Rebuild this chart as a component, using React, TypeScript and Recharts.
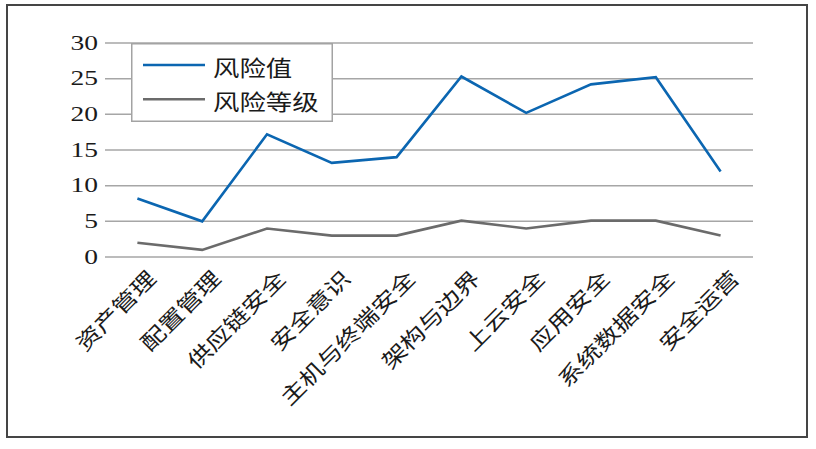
import React from 'react';
import { LineChart, Line, XAxis, YAxis, CartesianGrid, Legend } from 'recharts';

const categories = ['资产管理', '配置管理', '供应链安全', '安全意识', '主机与终端安全', '架构与边界', '上云安全', '应用安全', '系统数据安全', '安全运营'];
const riskValues = [8.2, 5.0, 17.2, 13.2, 14.0, 25.3, 20.2, 24.2, 25.2, 12.0];
const riskLevels = [2, 1, 4, 3, 3, 5.1, 4, 5.1, 5.1, 3];
const yTicks = [0, 5, 10, 15, 20, 25, 30];
const seriesNames = ['风险值', '风险等级'];
const seriesColors = ['#0b66b1', '#6b6b6b'];

const data = categories.map((name, i) => ({ name, value: riskValues[i], level: riskLevels[i] }));

const CJK = "'Noto Sans CJK SC', 'Noto Sans CJK JP', sans-serif";
const SERIF = "'Liberation Serif', 'DejaVu Serif', serif";

const YTick = (props: any) => {
  const { x, y, payload } = props;
  return (
    <g transform={`translate(${x},${y - 1}) scale(1.25,1)`}>
      <text textAnchor="end" dominantBaseline="central" fontSize={22} fontFamily={SERIF} fill="#1a1a1a">
        {payload.value}
      </text>
    </g>
  );
};

const XTick = (props: any) => {
  const { x, y, payload } = props;
  return (
    <g transform={`translate(${x + 20},${y + 23}) rotate(-45) scale(1.22,1)`}>
      <text textAnchor="end" fontSize={21} fontFamily={CJK} fill="#1a1a1a">
        {payload.value}
      </text>
    </g>
  );
};

const LegendBox = (props: any) => {
  const { payload } = props;
  return (
    <svg width={202} height={79} style={{ display: 'block' }}>
      <rect x={0.75} y={0.75} width={200.5} height={77.5} fill="#fff" stroke="#a3a3a3" strokeWidth={1.5} />
      {(payload || []).map((p: any, i: number) => {
        const cy = 22 + i * 34.3;
        return (
          <g key={i}>
            <line x1={12} x2={74} y1={cy} y2={cy} stroke={p.color} strokeWidth={2.6} />
            <g transform={`translate(82,${cy + 1}) scale(1.2,1)`}>
              <text dominantBaseline="central" fontSize={22} fontFamily={CJK} fill="#1a1a1a">
                {p.value}
              </text>
            </g>
          </g>
        );
      })}
    </svg>
  );
};

export default function App() {
  return (
    <div style={{ position: 'fixed', left: 0, top: 0, width: 816, height: 449, background: '#fff' }}>
      <div
        style={{
          position: 'absolute',
          left: 6,
          top: 4,
          width: 802,
          height: 434,
          border: '2px solid #454545',
          boxSizing: 'border-box',
        }}
      />
      <div style={{ position: 'absolute', left: 0, top: 0 }}>
        <LineChart width={816} height={449} data={data} margin={{ top: 43, right: 63, left: 65, bottom: 162 }}>
          <CartesianGrid vertical={false} stroke="#a6a6a6" strokeWidth={1.5} />
          <XAxis
            dataKey="name"
            scale="band"
            interval={0}
            tickLine={false}
            axisLine={false}
            tickSize={0}
            tickMargin={0}
            height={30}
            tick={<XTick />}
          />
          <YAxis
            domain={[0, 30]}
            ticks={yTicks}
            interval={0}
            tickLine={false}
            axisLine={false}
            tickSize={5}
            tickMargin={2}
            width={40}
            tick={<YTick />}
          />
          <Legend
            layout="vertical"
            align="center"
            verticalAlign="middle"
            content={<LegendBox />}
            wrapperStyle={{ left: 131, top: 43, width: 202, height: 79 }}
          />
          <Line
            type="linear"
            dataKey="value"
            name={seriesNames[0]}
            stroke={seriesColors[0]}
            strokeWidth={2.6}
            dot={false}
            activeDot={false}
            isAnimationActive={false}
          />
          <Line
            type="linear"
            dataKey="level"
            name={seriesNames[1]}
            stroke={seriesColors[1]}
            strokeWidth={2.6}
            dot={false}
            activeDot={false}
            isAnimationActive={false}
          />
        </LineChart>
      </div>
    </div>
  );
}
